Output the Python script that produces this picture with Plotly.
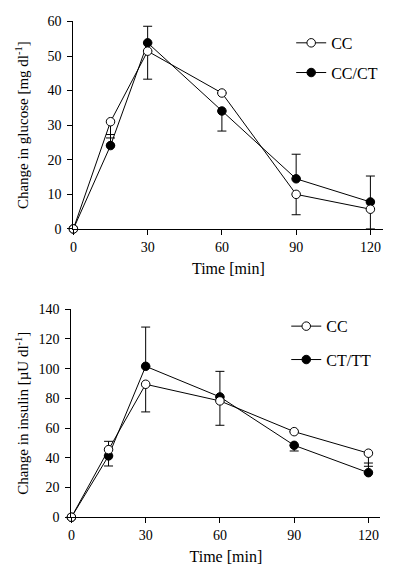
import plotly.graph_objects as go

time = [0, 15, 30, 60, 90, 120]
x_ticks = [0, 30, 60, 90, 120]

# Glucose panel
glu_cc = [0, 31.0, 51.4, 39.3, 10.0, 5.7]
glu_cc_err_up = [0, 0, 0, 0, 0, 0]
glu_cc_err_dn = [0, 4.7, 8.1, 0, 5.9, 5.7]
glu_ccct = [0, 24.1, 53.8, 34.1, 14.5, 7.8]
glu_ccct_err_up = [0, 3.2, 4.8, 0, 7.1, 7.5]
glu_ccct_err_dn = [0, 0, 0, 5.8, 0, 0]
glu_yticks = [0, 10, 20, 30, 40, 50, 60]

# Insulin panel
ins_cc = [0, 45.5, 89.5, 78.3, 57.6, 43.1]
ins_cc_err_up = [0, 5.6, 0, 0, 0, 0]
ins_cc_err_dn = [0, 0, 18.6, 16.4, 0, 8.8]
ins_cttt = [0, 41.3, 101.6, 81.0, 48.4, 30.0]
ins_cttt_err_up = [0, 0, 26.4, 17.2, 0, 6.5]
ins_cttt_err_dn = [0, 6.8, 0, 0, 3.8, 0]
ins_yticks = [0, 20, 40, 60, 80, 100, 120, 140]

FONT = "Liberation Serif"
PAGE_MARGIN = 8  # default body margin of the html page
W, H = 419 - 2 * PAGE_MARGIN, 573 - 2 * PAGE_MARGIN

def px_x(p):
    return (p - PAGE_MARGIN) / W

def px_y(p):
    # calibrated mapping from target picture row to page row
    p = (p - 5.3) / 0.973
    return 1 - (p - PAGE_MARGIN) / H

fig = go.Figure()

def add_series(x, y, up, dn, filled, name, xa, ya, legend):
    fig.add_trace(go.Scatter(
        x=x, y=y, name=name, mode="lines+markers",
        xaxis=xa, yaxis=ya, legend=legend, cliponaxis=False, showlegend=True,
        line=dict(color="black", width=1),
        marker=dict(symbol="circle", size=8.5,
                    color="black" if filled else "white",
                    line=dict(color="black", width=1)),
        error_y=dict(type="data", symmetric=False, array=up, arrayminus=dn,
                     color="black", thickness=1, width=4.5),
    ))

add_series(time, glu_ccct, glu_ccct_err_up, glu_ccct_err_dn, True, "CC/CT", "x", "y", "legend2")
add_series(time, glu_cc, glu_cc_err_up, glu_cc_err_dn, False, "CC", "x", "y", "legend")
add_series(time, ins_cttt, ins_cttt_err_up, ins_cttt_err_dn, True, "CT/TT", "x2", "y2", "legend4")
add_series(time, ins_cc, ins_cc_err_up, ins_cc_err_dn, False, "CC", "x2", "y2", "legend3")

axis_common = dict(showline=True, linecolor="black", linewidth=1, ticks="outside",
                   ticklen=5, tickcolor="black", showgrid=False, zeroline=False,
                   tickfont=dict(family=FONT, size=14, color="black"))

fig.update_layout(
    width=W, height=H,
    margin=dict(l=0, r=0, t=0, b=0),
    paper_bgcolor="white", plot_bgcolor="white",
    font=dict(family=FONT, color="black"),
    showlegend=True,
    xaxis=dict(domain=[px_x(70), px_x(383)], range=[0, 125.2], anchor="y",
               tickvals=x_ticks,
               title=dict(text="Time [min]", font=dict(family=FONT, size=16), standoff=9),
               **axis_common),
    yaxis=dict(domain=[px_y(227), px_y(19.5)], range=[0, 60], anchor="x",
               tickvals=glu_yticks, ticklabelstandoff=3,
               title=dict(text="Change in glucose [mg dl<sup>-1</sup>]",
                          font=dict(family=FONT, size=15), standoff=15),
               **axis_common),
    xaxis2=dict(domain=[px_x(68), px_x(380)], range=[0, 124.8], anchor="y2",
                tickvals=x_ticks,
                title=dict(text="Time [min]", font=dict(family=FONT, size=16), standoff=9),
                **axis_common),
    yaxis2=dict(domain=[px_y(515.3), px_y(307.3)], range=[0, 140], anchor="x2",
                tickvals=ins_yticks, ticklabelstandoff=3,
                title=dict(text="Change in insulin [µU dl<sup>-1</sup>]",
                           font=dict(family=FONT, size=15), standoff=6),
                **axis_common),
)

leg_common = dict(xanchor="left", yanchor="middle", bgcolor="rgba(0,0,0,0)",
                  font=dict(family=FONT, size=16, color="black"), itemwidth=30)
fig.update_layout(
    legend=dict(x=px_x(290), y=px_y(41), **leg_common),
    legend2=dict(x=px_x(290), y=px_y(70.7), **leg_common),
    legend3=dict(x=px_x(285), y=px_y(324.3), **leg_common),
    legend4=dict(x=px_x(285), y=px_y(357.7), **leg_common),
)

fig.write_html("out.html")
